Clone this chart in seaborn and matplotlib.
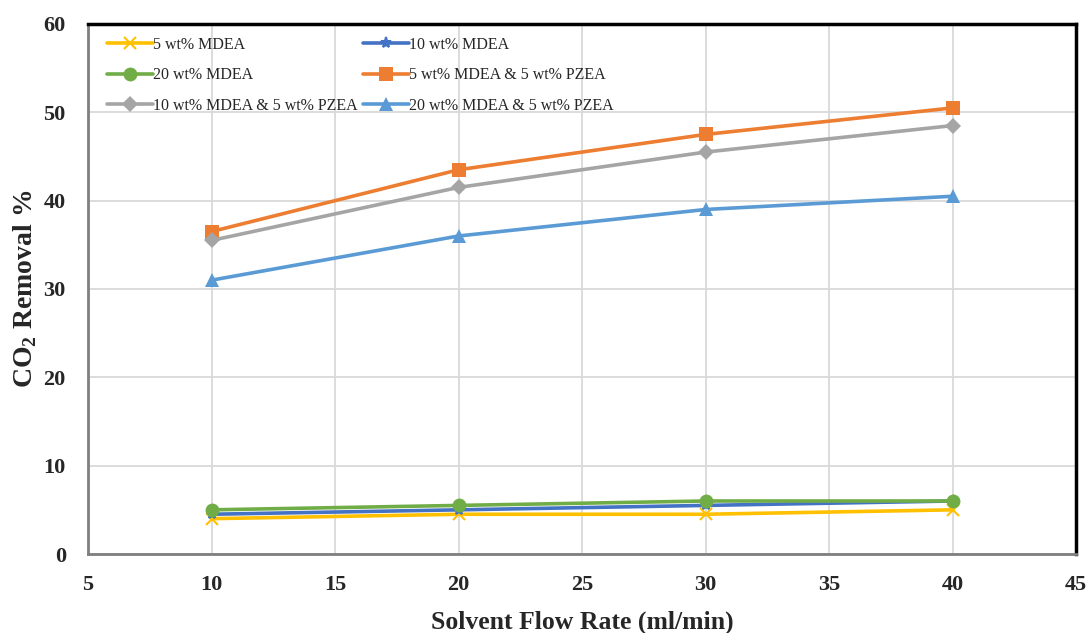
import matplotlib
matplotlib.use("Agg")
import matplotlib.pyplot as plt
import seaborn as sns
import pandas as pd

flow_rate = [10, 20, 30, 40]
mdea_5 = [4.0, 4.5, 4.5, 5.0]
mdea_10 = [4.5, 5.0, 5.5, 6.0]
mdea_20 = [5.0, 5.5, 6.0, 6.0]
mdea5_pzea5 = [36.5, 43.5, 47.5, 50.5]
mdea10_pzea5 = [35.5, 41.5, 45.5, 48.5]
mdea20_pzea5 = [31.0, 36.0, 39.0, 40.5]

labels = ["5 wt% MDEA", "10 wt% MDEA", "20 wt% MDEA",
          "5 wt% MDEA & 5 wt% PZEA", "10 wt% MDEA & 5 wt% PZEA",
          "20 wt% MDEA & 5 wt% PZEA"]
series = [mdea_5, mdea_10, mdea_20, mdea5_pzea5, mdea10_pzea5, mdea20_pzea5]
colors = ["#FFC000", "#4472C4", "#70AD47", "#ED7D31", "#A5A5A5", "#5B9BD5"]
markers = ["x", "*", "o", "s", "D", "^"]
msizes = [8, 8, 10, 10, 8, 10]

sns.set_theme(style="white")
plt.rcParams["font.family"] = ["Liberation Serif", "DejaVu Serif"]
plt.rcParams["mathtext.fontset"] = "custom"
plt.rcParams["mathtext.rm"] = "Liberation Serif"
plt.rcParams["mathtext.bf"] = "Liberation Serif:bold"

fig = plt.figure(figsize=(10.92, 6.33), dpi=100)
ax = fig.add_axes([0.0806, 0.1248, 0.9048, 0.8373])

for lab, vals, c, m, ms in zip(labels, series, colors, markers, msizes):
    df = pd.DataFrame({"x": flow_rate, "y": vals})
    sns.lineplot(data=df, x="x", y="y", ax=ax, color=c, marker=m,
                 markersize=ms, linewidth=2.6, label=lab,
                 markeredgecolor=c, markeredgewidth=1.5 if m in ("x", "*") else 0)

ax.set_xlim(5, 45)
ax.set_ylim(0, 60)
ax.set_xticks(range(5, 50, 5))
ax.set_yticks(range(0, 70, 10))
ax.grid(True, color="#D9D9D9", linewidth=1.3)
ax.set_axisbelow(True)

for lbl in ax.get_xticklabels() + ax.get_yticklabels():
    lbl.set_fontweight("bold")
    lbl.set_fontsize(16)
ax.tick_params(axis="x", length=0, pad=15)
ax.tick_params(axis="y", length=0, pad=16)

ax.set_xlabel("Solvent Flow Rate (ml/min)", fontsize=18.5, fontweight="bold", labelpad=11)
ax.set_ylabel(r"CO$_\mathbf{2}$ Removal %", fontsize=20, fontweight="bold", labelpad=3)

ax.spines["top"].set_color("black")
ax.spines["top"].set_linewidth(2.5)
ax.spines["right"].set_color("black")
ax.spines["right"].set_linewidth(2.5)
ax.spines["left"].set_color("#7F7F7F")
ax.spines["left"].set_linewidth(2)
ax.spines["bottom"].set_color("#7F7F7F")
ax.spines["bottom"].set_linewidth(2)

handles, labs = ax.get_legend_handles_labels()
order = [0, 2, 4, 1, 3, 5]
ax.legend([handles[i] for i in order], [labs[i] for i in order],
          loc="upper left", bbox_to_anchor=(0.008, 0.997), ncol=2, frameon=False,
          fontsize=11.5, handlelength=2.9, handletextpad=0.0, columnspacing=0.3,
          labelspacing=0.9, borderaxespad=0.3)

fig.savefig("out.png", dpi=100)
